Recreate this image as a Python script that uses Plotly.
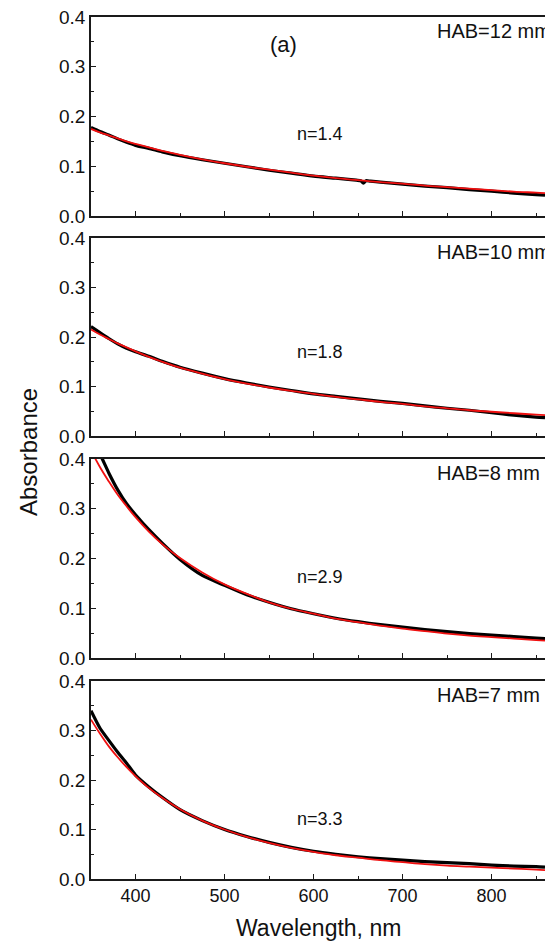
import plotly.graph_objects as go

# ---------------- data ----------------
wl = [350, 360, 370, 380, 390, 400, 415, 430, 450, 475, 500, 525, 550, 575,
      600, 625, 650, 675, 700, 725, 750, 775, 800, 825, 850, 860]

# HAB = 12 mm
wl_12 = [350, 360, 370, 380, 390, 400, 415, 430, 450, 475, 500, 525, 550, 575,
         600, 625, 648, 653, 656, 659, 664, 675, 700, 725, 750, 775, 800, 825, 850, 860]
meas_12 = [0.178, 0.170, 0.163, 0.155, 0.148, 0.142, 0.136, 0.129, 0.121, 0.113,
           0.106, 0.099, 0.092, 0.086, 0.080, 0.076, 0.072, 0.071, 0.066, 0.071,
           0.070, 0.068, 0.064, 0.060, 0.057, 0.053, 0.050, 0.046, 0.043, 0.042]
fit_12 = [0.175, 0.168, 0.162, 0.156, 0.150, 0.145, 0.138, 0.131, 0.123, 0.114,
          0.106, 0.099, 0.093, 0.087, 0.081, 0.076, 0.072, 0.068, 0.065, 0.061,
          0.058, 0.055, 0.052, 0.049, 0.047, 0.046]

# HAB = 10 mm
meas_10 = [0.221, 0.209, 0.197, 0.186, 0.177, 0.170, 0.161, 0.151, 0.139, 0.127,
           0.116, 0.107, 0.099, 0.092, 0.085, 0.080, 0.075, 0.070, 0.066, 0.061,
           0.056, 0.052, 0.047, 0.042, 0.038, 0.037]
fit_10 = [0.215, 0.205, 0.196, 0.187, 0.179, 0.171, 0.160, 0.150, 0.138, 0.126,
          0.115, 0.106, 0.098, 0.091, 0.085, 0.079, 0.074, 0.069, 0.065, 0.060,
          0.056, 0.052, 0.049, 0.046, 0.043, 0.042]

# HAB = 8 mm
meas_8 = [0.440, 0.410, 0.372, 0.338, 0.310, 0.288, 0.258, 0.231, 0.198, 0.166,
          0.146, 0.127, 0.112, 0.099, 0.089, 0.080, 0.073, 0.067, 0.062, 0.057,
          0.053, 0.049, 0.046, 0.043, 0.040, 0.039]
fit_8 = [0.417, 0.384, 0.355, 0.328, 0.305, 0.283, 0.254, 0.229, 0.201, 0.172,
         0.148, 0.129, 0.112, 0.099, 0.089, 0.079, 0.072, 0.065, 0.059, 0.054,
         0.049, 0.045, 0.042, 0.039, 0.036, 0.035]

# HAB = 7 mm
meas_7 = [0.340, 0.305, 0.280, 0.256, 0.234, 0.210, 0.186, 0.165, 0.140, 0.118,
          0.100, 0.086, 0.074, 0.064, 0.056, 0.050, 0.045, 0.041, 0.038, 0.035,
          0.033, 0.031, 0.028, 0.026, 0.025, 0.024]
fit_7 = [0.322, 0.294, 0.268, 0.246, 0.226, 0.208, 0.184, 0.164, 0.141, 0.118,
         0.100, 0.085, 0.073, 0.063, 0.055, 0.048, 0.043, 0.038, 0.034, 0.030,
         0.027, 0.025, 0.023, 0.021, 0.019, 0.018]

panel_labels = ["HAB=12 mm", "HAB=10 mm", "HAB=8 mm", "HAB=7 mm"]
n_labels = ["n=1.4", "n=1.8", "n=2.9", "n=3.3"]
n_label_y = [0.164, 0.169, 0.162, 0.122]
y_ticks = [0.0, 0.1, 0.2, 0.3, 0.4]
y_tick_text = ["0.0", "0.1", "0.2", "0.3", "0.4"]
x_ticks = [400, 500, 600, 700, 800]

panels = [
    (wl_12, meas_12, fit_12),
    (wl, meas_10, fit_10),
    (wl, meas_8, fit_8),
    (wl, meas_7, fit_7),
]

# ---------------- layout geometry ----------------
W, H = 545, 942
ML, MR, MT, MB = 91, 0, 17, 63
plot_h = H - MT - MB
# pixel top / bottom of each panel
pix = [(17, 216), (238, 436), (459, 658), (681, 879)]

def frac(p):
    return (H - MB - p) / plot_h

FONT = "Liberation Sans, Arial, sans-serif"
AX = "#1a1a1a"
TXT = "#111"

fig = go.Figure()
layout = dict(
    width=W, height=H,
    margin=dict(l=ML, r=MR, t=MT, b=MB),
    paper_bgcolor="white", plot_bgcolor="white",
    showlegend=False,
    font=dict(family=FONT, size=18, color=TXT),
)

annotations = []
for i, (xs, meas, fit) in enumerate(panels):
    k = "" if i == 0 else str(i + 1)
    xa, ya = "x" + k, "y" + k
    fig.add_trace(go.Scatter(x=xs, y=meas, mode="lines", xaxis=xa, yaxis=ya,
                             line=dict(color="black", width=3.2, shape="spline", smoothing=0.6)))
    fig.add_trace(go.Scatter(x=wl, y=fit, mode="lines", xaxis=xa, yaxis=ya,
                             line=dict(color="#f01010", width=1.8, shape="spline")))
    top, bot = pix[i]
    layout["xaxis" + k] = dict(
        domain=[0, 1], anchor=ya, range=[350, 860],
        showline=True, linecolor=AX, linewidth=1.5, mirror=True,
        ticks="inside", ticklen=5, tickwidth=1.3, tickcolor=AX,
        tickvals=x_ticks, showticklabels=(i == 3),
        minor=dict(ticks="inside", ticklen=3, tickwidth=1.1, tickcolor=AX, dtick=50, tick0=0),
        showgrid=False, zeroline=False,
        tickfont=dict(size=18, family=FONT, color=TXT),
    )
    layout["yaxis" + k] = dict(
        domain=[frac(bot), frac(top)], anchor=xa, range=[0, 0.4],
        showline=True, linecolor=AX, linewidth=1.5, mirror=False,
        ticks="inside", ticklen=5, tickwidth=1.3, tickcolor=AX,
        tickvals=y_ticks, ticktext=y_tick_text,
        minor=dict(ticks="inside", ticklen=3, tickwidth=1.1, tickcolor=AX, dtick=0.05, tick0=0),
        showgrid=False, zeroline=False,
        tickfont=dict(size=19, family=FONT, color=TXT),
    )
    annotations.append(dict(x=607, y=n_label_y[i], xref=xa, yref=ya, text=n_labels[i],
                            showarrow=False, xanchor="center", yanchor="middle",
                            font=dict(size=18, family=FONT, color=TXT)))
    annotations.append(dict(x=736, y=0.372, xref=xa, yref=ya, text=panel_labels[i],
                            showarrow=False, xanchor="left", yanchor="middle",
                            font=dict(size=20, family=FONT, color=TXT)))

annotations.append(dict(x=566, y=0.345, xref="x", yref="y", text="(a)", showarrow=False,
                        xanchor="center", yanchor="middle",
                        font=dict(size=22, family=FONT, color=TXT)))
annotations.append(dict(x=(28 - ML) / (W - ML - MR), y=frac(452), xref="paper", yref="paper",
                        text="Absorbance", textangle=-90, showarrow=False,
                        xanchor="center", yanchor="middle",
                        font=dict(size=24, family=FONT, color=TXT)))
annotations.append(dict(x=0.5, y=frac(928), xref="paper", yref="paper",
                        text="Wavelength, nm", showarrow=False,
                        xanchor="center", yanchor="middle",
                        font=dict(size=23, family=FONT, color=TXT)))
layout["annotations"] = annotations
fig.update_layout(**layout)

fig.write_html("out.html")
